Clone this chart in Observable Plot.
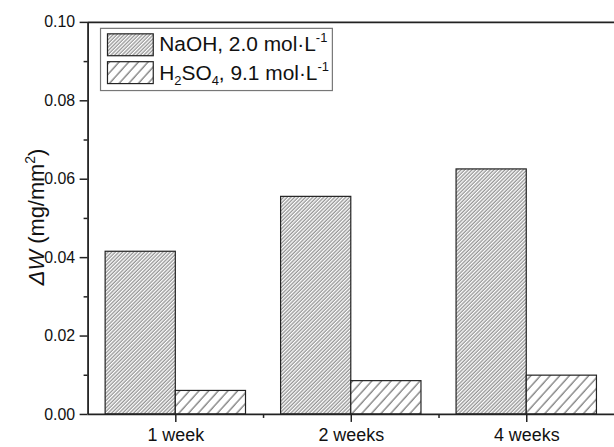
<!DOCTYPE html>
<html>
<head>
<meta charset="utf-8">
<script src="https://cdn.jsdelivr.net/npm/d3@7"></script>
<script src="https://cdn.jsdelivr.net/npm/@observablehq/plot@0.6"></script>
<style>
  html, body { margin: 0; padding: 0; background: #fff; overflow: hidden; }
  #chart { width: 614px; height: 447px; overflow: hidden; }
</style>
</head>
<body>
<div id="chart"></div>
<script>
const weeks = ["1 week", "2 weeks", "4 weeks"];
const naoh = [0.0415, 0.0555, 0.0625];
const h2so4 = [0.0060, 0.0085, 0.0099];
const yTicks = [0, 0.02, 0.04, 0.06, 0.08, 0.10];
const yMinorTicks = [0.01, 0.03, 0.05, 0.07, 0.09];
const xTicks = [1, 2, 3];
const xMinorTicks = [1.5, 2.5];

const dataN = weeks.map((w, i) => ({pos: i + 1, week: w, value: naoh[i]}));
const dataH = weeks.map((w, i) => ({pos: i + 1, week: w, value: h2so4[i]}));

const ink = "#222";
const font = "'Liberation Sans', Arial, sans-serif";

const chart = Plot.plot({
  width: 617,
  height: 447,
  marginLeft: 88,
  marginRight: 0,
  marginTop: 22,
  marginBottom: 31,
  style: {fontFamily: font, background: "white", color: ink},
  x: {type: "linear", domain: [0.5, 3.5], axis: null, label: null},
  y: {domain: [0, 0.1], axis: null, label: null},
  marks: [
    Plot.rect(dataN, {x1: d => d.pos - 0.4, x2: d => d.pos, y1: 0, y2: "value",
      fill: "url(#hatchDense)", stroke: ink, strokeWidth: 1.2}),
    Plot.rect(dataH, {x1: d => d.pos, x2: d => d.pos + 0.4, y1: 0, y2: "value",
      fill: "url(#hatchSparse)", stroke: ink, strokeWidth: 1.2}),
    Plot.axisY({ticks: yTicks, tickFormat: d3.format(".2f"), tickSize: 8, tickPadding: 5,
      fontSize: 16, strokeWidth: 1.5, stroke: ink, fill: "#111", label: null}),
    Plot.axisY({ticks: yMinorTicks, tickSize: 4, strokeWidth: 1.5, stroke: ink, text: null, label: null}),
    Plot.axisX({ticks: xTicks, tickFormat: d => weeks[d - 1], tickSize: 8, tickPadding: 6,
      fontSize: 18, strokeWidth: 1.5, stroke: ink, fill: "#111", label: null}),
    Plot.axisX({ticks: xMinorTicks, tickSize: 4, strokeWidth: 1.5, stroke: ink, text: null, label: null}),
    Plot.ruleX([0.5], {stroke: ink, strokeWidth: 1.8}),
    Plot.ruleY([0, 0.1], {stroke: ink, strokeWidth: 1.8})
  ]
});

document.getElementById("chart").append(chart);

const svg = d3.select(chart);
const defs = svg.insert("defs", ":first-child");
defs.append("pattern")
  .attr("id", "hatchDense")
  .attr("patternUnits", "userSpaceOnUse")
  .attr("width", 2.6).attr("height", 10)
  .attr("patternTransform", "rotate(45)")
  .call(p => p.append("rect").attr("width", 2.6).attr("height", 10).attr("fill", "white"))
  .append("line")
  .attr("x1", 1).attr("y1", 0).attr("x2", 1).attr("y2", 10)
  .attr("stroke", "#444").attr("stroke-width", 0.8);
defs.append("pattern")
  .attr("id", "hatchSparse")
  .attr("patternUnits", "userSpaceOnUse")
  .attr("width", 7.2).attr("height", 10)
  .attr("patternTransform", "rotate(42)")
  .call(p => p.append("rect").attr("width", 7.2).attr("height", 10).attr("fill", "white"))
  .append("line")
  .attr("x1", 1).attr("y1", 0).attr("x2", 1).attr("y2", 10)
  .attr("stroke", "#333").attr("stroke-width", 0.9);

// Y-axis title
const title = svg.append("text")
  .attr("transform", "translate(44,218) rotate(-90)")
  .attr("text-anchor", "middle")
  .attr("font-family", font)
  .attr("font-size", 22)
  .attr("fill", "#111");
title.append("tspan").attr("font-style", "italic").text("\u0394W");
title.append("tspan").text(" (mg/mm");
title.append("tspan").attr("font-size", 14).attr("dy", -9).text("2");
title.append("tspan").attr("dy", 9).text(")");

// Legend
const lg = svg.append("g").attr("font-family", font).attr("fill", "#111").attr("text-anchor", "start");
lg.append("rect").attr("x", 101).attr("y", 28.5).attr("width", 233).attr("height", 62.5)
  .attr("fill", "white").attr("stroke", "#777").attr("stroke-width", 1.2);
lg.append("rect").attr("x", 108).attr("y", 34).attr("width", 46).attr("height", 22)
  .attr("fill", "url(#hatchDense)").attr("stroke", ink).attr("stroke-width", 1.2);
lg.append("rect").attr("x", 108).attr("y", 62).attr("width", 46).attr("height", 22)
  .attr("fill", "url(#hatchSparse)").attr("stroke", ink).attr("stroke-width", 1.2);
const t1 = lg.append("text").attr("x", 160).attr("y", 51.5).attr("font-size", 21).attr("text-anchor", "start");
t1.append("tspan").text("NaOH, 2.0 mol\u00b7L");
t1.append("tspan").attr("font-size", 13).attr("dy", -9).text("-1");
const t2 = lg.append("text").attr("x", 160).attr("y", 80).attr("font-size", 21).attr("text-anchor", "start");
t2.append("tspan").text("H");
t2.append("tspan").attr("font-size", 13).attr("dy", 5).text("2");
t2.append("tspan").attr("dy", -5).text("SO");
t2.append("tspan").attr("font-size", 13).attr("dy", 5).text("4");
t2.append("tspan").attr("dy", -5).text(", 9.1 mol\u00b7L");
t2.append("tspan").attr("font-size", 13).attr("dy", -9).text("-1");
</script>
</body>
</html>
